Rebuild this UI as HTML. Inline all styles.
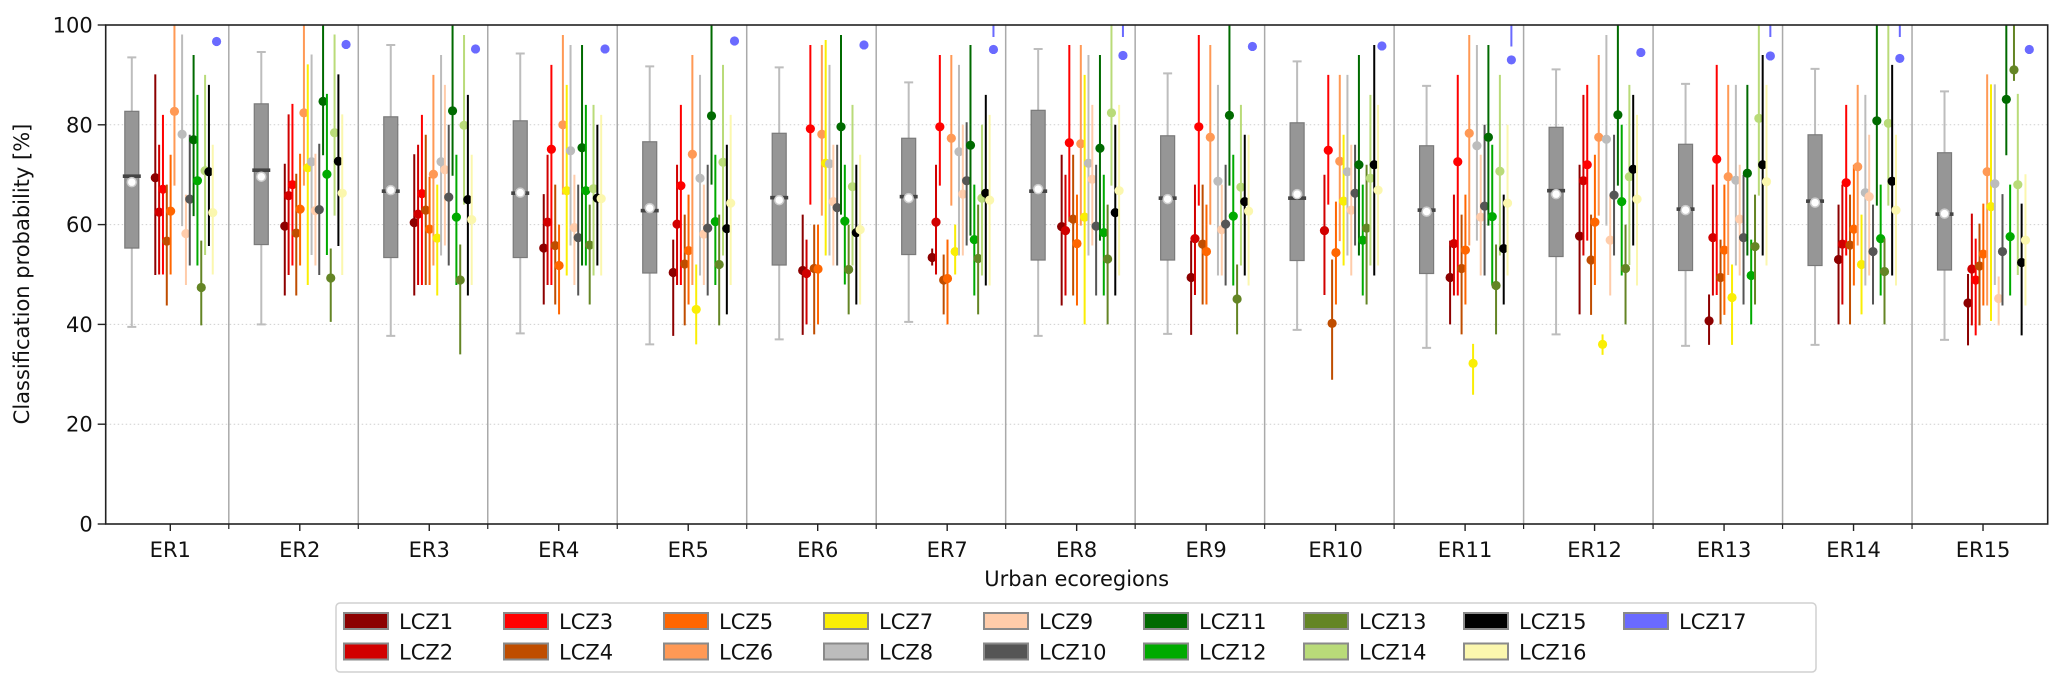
<!DOCTYPE html>
<html><head><meta charset="utf-8">
<style>
html,body{margin:0;padding:0;background:#fff;}
svg{display:block;font-family:"DejaVu Sans","Liberation Sans",sans-serif;}
</style></head>
<body>
<svg id="chart" width="2067" height="692" viewBox="0 0 2067 692" xmlns="http://www.w3.org/2000/svg">
<defs><clipPath id="plotclip"><rect x="105.7" y="25" width="1942" height="499"/></clipPath></defs>
<g id="grid"></g>
<g id="seps"></g>
<g id="plot" clip-path="url(#plotclip)"></g>
<g id="axes"></g>
<g id="legend"></g>
</svg>
<script>
const ecoregions = ["ER1","ER2","ER3","ER4","ER5","ER6","ER7","ER8","ER9","ER10","ER11","ER12","ER13","ER14","ER15"];
const lczNames = ["LCZ1","LCZ2","LCZ3","LCZ4","LCZ5","LCZ6","LCZ7","LCZ8","LCZ9","LCZ10","LCZ11","LCZ12","LCZ13","LCZ14","LCZ15","LCZ16","LCZ17"];
const lczColors = ["#8c0000","#d10000","#ff0000","#bf4d00","#ff6600","#ff9955","#faee05","#bcbcbc","#ffccaa","#555555","#006a00","#00aa00","#648525","#b9db79","#000000","#fbf7ae","#6a6aff"];
const yTicks = [0,20,40,60,80,100];
const boxLow = [39.5,40,37.7,38.2,36,37,40.5,37.7,38.1,38.9,35.3,38,35.7,35.9,36.9];
const boxQ1 = [55.3,56,53.4,53.4,50.3,51.9,54,52.9,52.9,52.8,50.2,53.6,50.8,51.8,50.9];
const boxMed = [69.7,70.9,66.7,66.3,62.8,65.4,65.6,66.7,65.3,65.3,62.9,66.8,63.1,64.7,62.1];
const boxQ3 = [82.7,84.2,81.6,80.8,76.6,78.3,77.3,82.9,77.8,80.4,75.8,79.5,76.1,78,74.4];
const boxHigh = [93.5,94.6,96,94.3,91.7,91.5,88.5,95.2,90.3,92.7,87.8,91.1,88.2,91.2,86.7];
const boxMean = [68.5,69.6,66.9,66.4,63.3,64.9,65.3,67.1,65.1,66.1,62.6,66.1,62.9,64.4,62.2];
const meanVals = [
[69.4,62.5,67.1,56.7,62.7,82.7,null,78.1,58.2,65.1,77,68.8,47.4,70.8,70.6,62.4,96.7],
[59.7,65.8,68,58.3,63.1,82.4,71.4,72.6,62.8,63,84.7,70.1,49.3,78.4,72.7,66.3,96.1],
[60.4,62.1,66.2,62.9,59.1,70.1,57.3,72.6,71,65.5,82.8,61.5,48.9,79.9,65,61,95.2],
[55.3,60.5,75.1,55.8,51.8,80,66.8,74.8,59.4,57.4,75.4,66.8,55.9,67.2,65.3,65.2,95.2],
[50.4,60.1,67.8,52.1,54.8,74.1,43,69.3,58.1,59.3,81.8,60.6,52,72.5,59.2,64.3,96.8],
[50.8,50.2,79.2,51.2,51.1,78.1,72.3,72.2,64.6,63.4,79.6,60.7,51,67.6,58.4,59,96],
[53.4,60.5,79.6,48.9,49.2,77.3,54.6,74.6,66.1,68.8,75.9,57,53.2,65.3,66.3,64.9,95.1],
[59.6,58.8,76.4,61.1,56.2,76.2,61.5,72.3,69.1,59.7,75.3,58.4,53.1,82.4,62.4,66.8,93.9],
[49.4,57.2,79.6,56.1,54.6,77.5,null,68.7,59,60.1,81.9,61.7,45.1,67.5,64.6,62.7,95.7],
[null,58.8,74.9,40.2,54.4,72.7,64.7,70.6,62.9,66.3,72,56.9,59.3,69.3,72,66.9,95.8],
[49.4,56.2,72.6,51.2,54.9,78.3,32.2,75.8,61.5,63.7,77.5,61.6,47.8,70.7,55.2,64.3,93],
[57.7,68.8,72,52.9,60.5,77.5,36,77.1,56.9,65.9,82,64.6,51.2,69.6,71.1,65.1,94.5],
[40.7,57.4,73.1,49.4,54.9,69.6,45.4,68.9,61.1,57.4,70.3,49.8,55.6,81.3,72,68.6,93.8],
[53,56.1,68.4,55.9,59.1,71.6,52,66.4,65.6,54.6,80.8,57.2,50.6,80.3,68.7,62.9,93.3],
[44.3,51.1,48.9,51.7,54.1,70.6,63.6,68.2,45.2,54.6,85.1,57.6,91,68,52.4,56.9,95.1]
];
const lowVals = [
[49.9,50,50,43.8,50,67.8,null,59.7,47.9,51.8,61.7,51.8,39.8,53.9,55.7,50,null],
[45.8,49.9,51.8,45.8,51.8,67.8,47.9,53.9,51.8,49.9,73.9,53.9,40.5,61.8,55.7,49.9,null],
[45.8,47.9,47.9,47.9,47.9,51.8,45.8,53.8,55.8,51.8,69.8,47.9,34,64,45.8,47.9,null],
[44,47.9,47.9,44,42,66,49.8,55.8,47.9,45.8,51.8,51.8,44,49.8,51.8,49.8,null],
[37.7,47.9,47.9,39.8,44,47.9,36,49.8,47.9,45.8,68,47.9,39.8,53.8,42,47.9,null],
[37.9,40,64,38,40,61.8,53.8,53.8,51.8,51.8,62,48,42,51.8,44,44,null],
[51.8,50,67.8,42,40,63.8,50,53.8,53.8,55.8,57.8,45.8,42,49.8,47.8,47.8,97.6],
[43.8,45.8,60.6,45.8,43.8,59.8,40,53.8,55.8,45.8,56.8,45.8,40,67.8,45.8,49.8,97.6],
[37.9,45.9,63.8,44,44,60,null,49.8,49.8,47.8,67.8,47.8,38,51.8,49.8,47.8,null],
[null,45.9,64,28.9,44,56.7,51.8,53.8,49.8,55.8,53.8,45.8,44,51.8,49.8,51.8,null],
[40,45.8,45.8,38,44,55.8,25.9,56.8,49.8,49.8,59.8,47.8,38,53.8,44,49.8,95.7],
[42,53.8,56.8,41.9,47.9,61.8,33.9,59.8,45.8,53.8,67.8,49.8,40,51.9,55.8,47.8,null],
[35.9,45.8,45.9,40,41.9,49.9,35.9,51.8,49.8,44,53.8,40,44,65.8,53.8,51.8,97.6],
[40,44,53.8,40,47.8,55.8,42,47.8,49.8,44,63.8,45.8,40,63.8,49.8,47.8,97.6],
[35.8,39.8,37.8,39.8,43.8,43.8,40.7,47.9,39.8,43.8,73.9,45.8,88.8,49.9,37.8,43.8,null]
];
const highVals = [
[90.1,76,82,68,74,100,null,98.1,66,78,94,86,56.8,90,88,76,null],
[72.2,82.1,84.2,70.2,74.2,100,92.1,94.1,74.2,76.2,100,86.2,55.2,98.1,90.1,82.1,null],
[74.1,76,82,78,69.6,90,68,94,88,80,100,74,56,98,86,74,null],
[66.1,74,92,68,60,98,88,96,70,68,96,84,64,84,80,82,null],
[57,72,84,62,66,94,52,90,68,72,100,74,62,92,76,82,null],
[62,57,96,60,60,96,97,92,76,76,98,72,60,84,72,74,null],
[55.2,72,94,54,57,94,60,92,80,80.5,96,68,64,80,86,82,110],
[74,70,96,74,66,96,90,94,84,72,94,70,64,100,80,84,110],
[56.8,68,98,68,64,96,null,88,68,72,100,74,52,84,78,78,null],
[null,70,90,53,64.6,90,78,90,76,76,94,68,72,86,96,84,null],
[56.8,66,90,62,66,98,36.1,96,74,80,96,76,56,90,66,80,110],
[72,86,88,62,74,94,38,98,66,78,100,80,60,88,86,82,null],
[46,68,92,57,68,88,52,88,72,70,88,57,66,100,94,88,110],
[64,68,84,66,72,88,62,86,78,64,100,68,57.2,100,92,78,110],
[50.1,62.2,57.2,60.2,64.2,90.1,88.1,88.1,49.6,66.1,100,68,100,86.2,64.2,70.1,null]
];

const NS = "http://www.w3.org/2000/svg";
const X0 = 170.3, DX = 129.48, PL = 105.7, PR = 2047.7, PT = 25, PB = 524;
function xER(i){ return X0 + DX*i; }
function xLCZ(i,k){ return xER(i) - 15 + 3.83*k; }
function yV(v){ return PB - (PB-PT)*v/100; }
function mk(tag, attrs, parent){
  const e = document.createElementNS(NS, tag);
  for (const k in attrs) e.setAttribute(k, attrs[k]);
  parent.appendChild(e);
  return e;
}
const grid = document.getElementById('grid');
const seps = document.getElementById('seps');
const plot = document.getElementById('plot');
const axes = document.getElementById('axes');
const legend = document.getElementById('legend');

yTicks.forEach(t => {
  if (t === 0 || t === 100) return;
  const g = mk('line', {x1:PL, x2:PR, y1:yV(t), y2:yV(t), stroke:'#cfcfcf', 'stroke-width':1, 'stroke-dasharray':'1.5,2.5'}, grid);
  
  
});
for (let i = 0; i < ecoregions.length - 1; i++) {
  const sx = xER(i) + 58.5;
  const s = mk('line', {x1:sx, x2:sx, y1:PT, y2:PB, stroke:'#aaaaaa', 'stroke-width':1.5}, seps);
  
  
}
ecoregions.forEach((er, i) => {
  const g = mk('g', {}, plot);
  
  
  const cx = xER(i) - 38.5;
  mk('line', {x1:cx, x2:cx, y1:yV(boxLow[i]), y2:yV(boxHigh[i]), stroke:'#bdbdbd', 'stroke-width':2}, g);
  mk('line', {x1:cx-4.5, x2:cx+4.5, y1:yV(boxLow[i]), y2:yV(boxLow[i]), stroke:'#bdbdbd', 'stroke-width':2}, g);
  mk('line', {x1:cx-4.5, x2:cx+4.5, y1:yV(boxHigh[i]), y2:yV(boxHigh[i]), stroke:'#bdbdbd', 'stroke-width':2}, g);
  mk('rect', {x:cx-7, y:yV(boxQ3[i]), width:14, height:yV(boxQ1[i])-yV(boxQ3[i]), fill:'#969696', stroke:'#7a7a7a', 'stroke-width':1.2}, g);
  mk('rect', {x:cx-9, y:yV(boxMed[i])-1.8, width:18, height:3.6, fill:'#444444'}, g);
  mk('circle', {cx:cx, cy:yV(boxMean[i]), r:4.5, fill:'#ffffff', stroke:'#cccccc', 'stroke-width':1.5}, g);
});
lczNames.forEach((name, k) => {
  const g = mk('g', {}, plot);
  
  
  ecoregions.forEach((er, i) => {
    const x = xLCZ(i, k);
    const lo = lowVals[i][k], hi = highVals[i][k], m = meanVals[i][k];
    if (lo !== null && hi !== null) {
      const b = mk('line', {x1:x, x2:x, y1:yV(lo), y2:yV(hi), stroke:lczColors[k], 'stroke-width':2}, g);
      
      
    }
    if (m !== null) {
      const c = mk('circle', {cx:x, cy:yV(m), r:4.6, fill:lczColors[k]}, g);
      
      
    }
  });
});
const spine = mk('rect', {x:PL, y:PT, width:PR-PL, height:PB-PT, fill:'none', stroke:'#222', 'stroke-width':1.6}, axes);


yTicks.forEach(t => {
  mk('line', {x1:PL-8, x2:PL, y1:yV(t), y2:yV(t), stroke:'#222', 'stroke-width':1.4}, axes);
  const tx = mk('text', {x:PL-13, y:yV(t)+7.5, 'text-anchor':'end', 'font-size':21, fill:'#111'}, axes);
  tx.textContent = t;
  
  
});
ecoregions.forEach((er, i) => {
  mk('line', {x1:xER(i), x2:xER(i), y1:PB, y2:PB+7, stroke:'#222', 'stroke-width':1.4}, axes);
  if (i < ecoregions.length - 1) mk('line', {x1:xER(i)+58.5, x2:xER(i)+58.5, y1:PB, y2:PB+5, stroke:'#222', 'stroke-width':1.2}, axes);
  const tx = mk('text', {x:xER(i), y:557, 'text-anchor':'middle', 'font-size':21, fill:'#111'}, axes);
  tx.textContent = er;
  
  
});
const xt = mk('text', {x:(PL+PR)/2, y:586, 'text-anchor':'middle', 'font-size':21, fill:'#111'}, axes);
xt.textContent = 'Urban ecoregions';


const yt = mk('text', {x:0, y:0, 'text-anchor':'middle', 'font-size':21, fill:'#111', transform:'translate(29,274) rotate(-90)'}, axes);
yt.textContent = 'Classification probability [%]';


const lbox = mk('rect', {x:336, y:603, width:1480, height:69, rx:4, fill:'#fff', stroke:'#d0d0d0', 'stroke-width':1.5}, legend);


lczNames.forEach((name, k) => {
  const col = Math.floor(k/2), row = k % 2;
  const g = mk('g', {}, legend);
  
  
  const px = 344 + 160*col, py = 613 + 30.5*row;
  mk('rect', {x:px, y:py, width:44, height:16, fill:lczColors[k], stroke:'#8a8a8a', 'stroke-width':2}, g);
  const t = mk('text', {x:px+55, y:py+16, 'font-size':21, fill:'#111'}, g);
  t.textContent = name;
});
</script>
</body></html>
